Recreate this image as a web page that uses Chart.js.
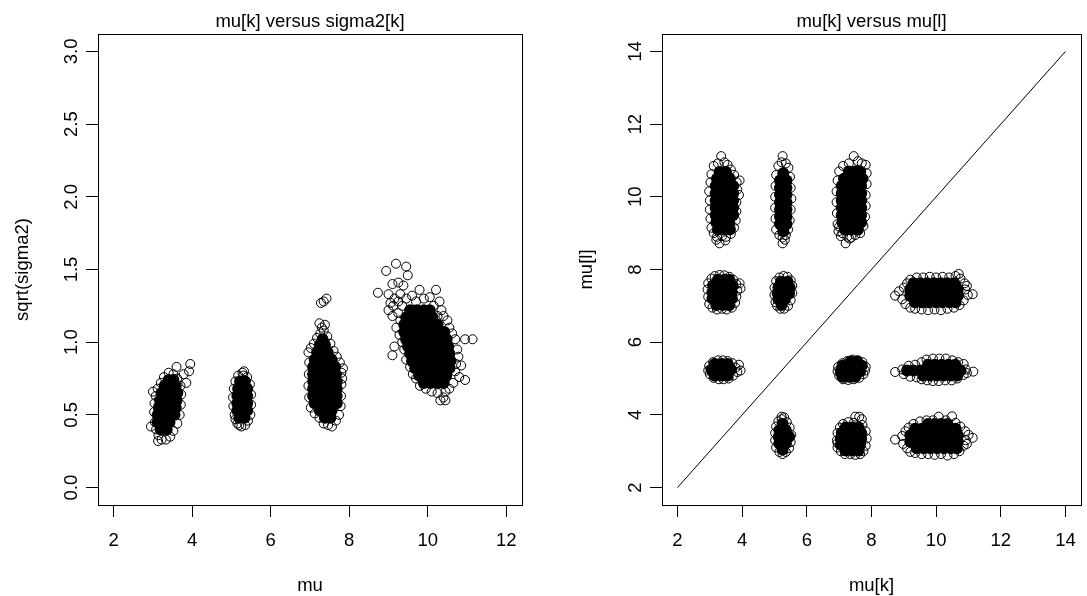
<!DOCTYPE html>
<html>
<head>
<meta charset="utf-8">
<script src="https://cdn.jsdelivr.net/npm/chart.js@4"></script>
<style>
html, body { margin: 0; padding: 0; background: #fff; }
#wrap { position: relative; width: 1087px; height: 596px; overflow: hidden; }
canvas { position: absolute; top: 0; }
#izq { left: 0; }
#der { left: 545px; }
</style>
</head>
<body>
<div id="wrap">
  <canvas id="izq" width="545" height="596"></canvas>
  <canvas id="der" width="542" height="596"></canvas>
</div>
<script>
// ticks
const mu_ticks = [2, 4, 6, 8, 10, 12]
const mu_labels = ["2", "4", "6", "8", "10", "12"]
const sigma_ticks = [0, 0.5, 1, 1.5, 2, 2.5, 3]
const sigma_labels = ["0.0", "0.5", "1.0", "1.5", "2.0", "2.5", "3.0"]
const mumu_ticks = [2, 4, 6, 8, 10, 12, 14]
const mumu_labels = ["2", "4", "6", "8", "10", "12", "14"]
const diagonal = [2, 14]

// izquierda: mu vs sqrt(sigma2). "nucleo" = zona densa, "borde" = circulos sueltos
const grupo1_nucleo = [[3.20,0.40],[3.35,0.40],[3.12,0.45],[3.27,0.45],[3.42,0.45],[3.12,0.50],[3.27,0.50],[3.42,0.50],[3.55,0.50],
  [3.15,0.55],[3.30,0.55],[3.45,0.55],[3.58,0.55],[3.18,0.60],[3.33,0.60],[3.48,0.60],[3.60,0.60],
  [3.22,0.65],[3.37,0.65],[3.52,0.65],[3.62,0.65],[3.30,0.70],[3.45,0.70],[3.58,0.70],[3.40,0.74],[3.52,0.74]]
const grupo1_borde = [[3.05,0.45],[3.03,0.52],[3.04,0.58],[3.07,0.63],[3.12,0.68],[3.20,0.72],[3.28,0.76],[3.40,0.79],[3.52,0.78],
  [3.62,0.75],[3.70,0.70],[3.72,0.64],[3.71,0.57],[3.68,0.50],[3.62,0.44],[3.52,0.39],[3.44,0.35],[3.33,0.33],[3.22,0.33],
  [3.14,0.36],[3.08,0.40],[3.60,0.83],[3.95,0.85],[3.92,0.80],[3.85,0.72],[3.78,0.78],[2.95,0.42],[3.00,0.66],[3.13,0.32]]
const grupo2_nucleo = [[5.20,0.48],[5.33,0.48],[5.15,0.53],[5.28,0.53],[5.40,0.53],[5.15,0.58],[5.28,0.58],[5.40,0.58],
  [5.15,0.63],[5.28,0.63],[5.40,0.63],[5.17,0.68],[5.30,0.68],[5.40,0.68],[5.22,0.73],[5.34,0.73]]
const grupo2_borde = [[5.08,0.50],[5.05,0.56],[5.04,0.62],[5.06,0.68],[5.10,0.73],[5.17,0.77],[5.28,0.79],[5.32,0.80],[5.40,0.76],
  [5.47,0.71],[5.50,0.64],[5.50,0.57],[5.48,0.50],[5.42,0.46],[5.35,0.43],[5.25,0.42],[5.15,0.44],[5.10,0.47],[5.30,0.77],[5.20,0.43]]
const grupo3_nucleo = [[7.38,0.48],[7.52,0.48],[7.25,0.53],[7.40,0.53],[7.55,0.53],[7.12,0.58],[7.27,0.58],[7.42,0.58],[7.56,0.58],[7.68,0.58],
  [7.08,0.63],[7.23,0.63],[7.38,0.63],[7.53,0.63],[7.68,0.63],[7.08,0.68],[7.23,0.68],[7.38,0.68],[7.53,0.68],[7.68,0.68],
  [7.08,0.73],[7.23,0.73],[7.38,0.73],[7.53,0.73],[7.68,0.73],[7.08,0.78],[7.23,0.78],[7.38,0.78],[7.53,0.78],[7.66,0.78],
  [7.08,0.83],[7.23,0.83],[7.38,0.83],[7.53,0.83],[7.64,0.83],[7.12,0.88],[7.27,0.88],[7.42,0.88],[7.55,0.88],
  [7.18,0.93],[7.32,0.93],[7.45,0.93],[7.25,0.98],[7.38,0.98],[7.32,1.02]]
const grupo3_borde = [[7.02,0.55],[6.98,0.62],[6.96,0.70],[6.97,0.78],[6.98,0.86],[6.96,0.93],[7.02,0.96],[7.10,0.99],[7.18,1.03],
  [7.26,1.06],[7.35,1.08],[7.44,1.04],[7.52,0.99],[7.60,0.94],[7.68,0.90],[7.76,0.86],[7.80,0.79],[7.80,0.71],[7.79,0.63],
  [7.78,0.56],[7.74,0.50],[7.66,0.46],[7.56,0.42],[7.46,0.43],[7.35,0.44],[7.24,0.48],[7.12,0.51],[7.30,1.10],[7.24,1.13],
  [7.38,1.12],[7.28,1.27],[7.35,1.28],[7.42,1.30],[7.84,0.82],[7.82,0.75]]
const grupo4_nucleo = [[9.55,1.22],[9.72,1.22],[9.90,1.22],[10.05,1.22],
  [9.45,1.17],[9.62,1.17],[9.80,1.17],[9.98,1.17],[10.12,1.17],
  [9.40,1.12],[9.57,1.12],[9.75,1.12],[9.92,1.12],[10.10,1.12],[10.25,1.12],
  [9.40,1.07],[9.57,1.07],[9.75,1.07],[9.92,1.07],[10.10,1.07],[10.28,1.07],[10.42,1.07],
  [9.45,1.02],[9.62,1.02],[9.80,1.02],[9.98,1.02],[10.15,1.02],[10.32,1.02],[10.48,1.02],
  [9.50,0.97],[9.67,0.97],[9.85,0.97],[10.02,0.97],[10.20,0.97],[10.37,0.97],[10.52,0.97],
  [9.55,0.92],[9.72,0.92],[9.90,0.92],[10.08,0.92],[10.25,0.92],[10.42,0.92],[10.55,0.92],
  [9.60,0.87],[9.78,0.87],[9.95,0.87],[10.12,0.87],[10.30,0.87],[10.48,0.87],[10.58,0.87],
  [9.68,0.82],[9.85,0.82],[10.02,0.82],[10.20,0.82],[10.38,0.82],[10.55,0.82],
  [9.78,0.77],[9.95,0.77],[10.12,0.77],[10.30,0.77],[10.47,0.77],
  [9.90,0.72],[10.07,0.72],[10.25,0.72],[10.40,0.72]]
const grupo4_borde = [[9.00,1.22],[9.05,1.27],[9.00,1.33],[8.73,1.34],[9.10,1.18],[9.12,1.25],[9.15,1.30],[9.25,1.20],[9.25,1.28],
  [9.30,1.15],[9.30,1.33],[9.35,1.25],[9.10,1.40],[9.25,1.41],[9.38,1.39],[9.19,1.54],[8.94,1.49],[9.45,1.52],[9.49,1.46],
  [9.45,1.30],[9.60,1.32],[9.70,1.28],[9.79,1.36],[9.90,1.30],[10.05,1.31],[10.21,1.36],[10.15,1.25],[10.30,1.28],[10.35,1.22],
  [10.25,1.18],[10.40,1.18],[10.50,1.15],[10.55,1.10],[10.62,1.06],[10.70,1.02],[10.75,0.95],[10.95,1.02],[11.14,1.02],
  [10.78,0.90],[10.72,0.85],[10.85,0.84],[10.70,0.80],[10.80,0.76],[10.95,0.74],[10.65,0.72],[10.55,0.68],[10.45,0.66],
  [10.40,0.62],[10.32,0.60],[10.45,0.60],[10.25,0.65],[10.10,0.66],[9.95,0.68],[9.80,0.70],[9.70,0.75],[9.62,0.78],
  [9.55,0.83],[9.45,0.88],[9.40,0.95],[9.35,1.00],[9.28,1.05],[9.15,0.97],[9.10,0.91],[9.20,1.10]]

// derecha: mu[k] vs mu[l]
const p3_10_nucleo = [[3.25,9.10],[3.45,9.10],[3.62,9.10],[3.20,9.30],[3.40,9.30],[3.60,9.30],
  [3.18,9.50],[3.38,9.50],[3.58,9.50],[3.72,9.50],[3.18,9.70],[3.38,9.70],[3.58,9.70],[3.72,9.70],
  [3.18,9.90],[3.38,9.90],[3.58,9.90],[3.72,9.90],[3.18,10.10],[3.38,10.10],[3.58,10.10],[3.72,10.10],
  [3.18,10.30],[3.38,10.30],[3.58,10.30],[3.72,10.30],[3.22,10.50],[3.42,10.50],[3.62,10.50],[3.30,10.68],[3.50,10.68]]
const p3_10_borde = [[3.05,9.15],[3.02,9.40],[3.00,9.65],[3.00,9.90],[2.98,10.15],[3.02,10.40],[3.05,10.62],[3.12,10.85],
  [3.25,10.92],[3.35,11.12],[3.45,10.95],[3.55,10.88],[3.65,10.75],[3.75,10.60],[3.83,10.40],[3.92,10.45],[3.90,10.05],
  [3.85,10.20],[3.82,9.85],[3.82,9.60],[3.80,9.35],[3.75,9.15],[3.65,8.98],[3.50,8.90],[3.38,8.92],[3.22,8.90],[3.12,9.00],
  [3.30,8.72],[3.20,8.82],[3.48,8.80]]
const p5_10_nucleo = [[5.27,9.05],[5.17,9.25],[5.37,9.25],[5.17,9.45],[5.37,9.45],[5.17,9.65],[5.37,9.65],[5.17,9.85],[5.37,9.85],
  [5.17,10.05],[5.37,10.05],[5.17,10.25],[5.37,10.25],[5.17,10.45],[5.37,10.45],[5.27,10.65]]
const p5_10_borde = [[5.05,9.10],[5.03,9.40],[5.02,9.70],[5.02,10.00],[5.03,10.30],[5.05,10.60],[5.12,10.85],[5.22,10.95],
  [5.25,11.12],[5.35,10.92],[5.43,10.80],[5.48,10.55],[5.50,10.25],[5.52,9.95],[5.50,9.65],[5.47,9.35],[5.42,9.10],
  [5.35,8.95],[5.25,8.88],[5.15,8.95],[5.25,8.72],[5.32,8.82]]
const p7_10_nucleo = [[7.18,9.10],[7.38,9.10],[7.58,9.10],[7.10,9.30],[7.30,9.30],[7.50,9.30],[7.68,9.30],
  [7.08,9.50],[7.28,9.50],[7.48,9.50],[7.68,9.50],[7.08,9.70],[7.28,9.70],[7.48,9.70],[7.68,9.70],
  [7.08,9.90],[7.28,9.90],[7.48,9.90],[7.68,9.90],[7.08,10.10],[7.28,10.10],[7.48,10.10],[7.68,10.10],
  [7.08,10.30],[7.28,10.30],[7.48,10.30],[7.68,10.30],[7.15,10.50],[7.35,10.50],[7.55,10.50],[7.72,10.50],
  [7.30,10.70],[7.50,10.70],[7.65,10.70]]
const p7_10_borde = [[6.95,9.25],[6.93,9.55],[6.92,9.85],[6.92,10.15],[6.95,10.45],[7.00,10.70],[7.12,10.85],[7.30,10.92],
  [7.45,11.12],[7.58,10.98],[7.70,10.92],[7.82,10.88],[7.85,10.65],[7.85,10.35],[7.82,10.05],[7.82,9.75],[7.80,9.45],
  [7.75,9.20],[7.65,9.00],[7.50,8.95],[7.38,8.88],[7.25,8.90],[7.10,9.00],[7.00,9.18],[6.98,9.05],[7.05,8.92],[7.20,8.72],[7.32,8.85]]
const p3_7_nucleo = [[3.20,7.02],[3.40,7.02],[3.60,7.02],[3.08,7.20],[3.28,7.20],[3.48,7.20],[3.68,7.20],
  [3.08,7.38],[3.28,7.38],[3.48,7.38],[3.68,7.38],[3.10,7.56],[3.30,7.56],[3.50,7.56],[3.70,7.56],[3.25,7.72],[3.45,7.72],[3.60,7.72]]
const p3_7_borde = [[2.98,7.05],[2.95,7.25],[2.93,7.45],[2.95,7.62],[3.05,7.75],[3.15,7.82],[3.30,7.85],[3.45,7.84],[3.60,7.80],
  [3.72,7.72],[3.82,7.60],[3.92,7.62],[3.95,7.48],[3.85,7.42],[3.82,7.25],[3.78,7.08],[3.68,6.95],[3.52,6.90],[3.38,6.92],
  [3.22,6.90],[3.08,6.95]]
const p5_7_nucleo = [[5.22,7.02],[5.12,7.18],[5.32,7.18],[5.10,7.34],[5.30,7.34],[5.45,7.34],[5.12,7.50],[5.32,7.50],[5.47,7.50],
  [5.20,7.66],[5.40,7.66]]
const p5_7_borde = [[5.03,7.10],[5.00,7.30],[5.00,7.50],[5.05,7.68],[5.15,7.78],[5.28,7.82],[5.40,7.80],[5.50,7.70],[5.55,7.55],
  [5.55,7.35],[5.50,7.15],[5.42,7.00],[5.30,6.92],[5.18,6.92],[5.08,7.00]]
const p10_7_nucleo = [[9.35,7.10],[9.56,7.10],[9.77,7.10],[9.98,7.10],[10.19,7.10],[10.40,7.10],[10.60,7.10],
  [9.20,7.28],[9.41,7.28],[9.62,7.28],[9.83,7.28],[10.04,7.28],[10.25,7.28],[10.46,7.28],[10.67,7.28],
  [9.20,7.46],[9.41,7.46],[9.62,7.46],[9.83,7.46],[10.04,7.46],[10.25,7.46],[10.46,7.46],[10.67,7.46],
  [9.30,7.62],[9.51,7.62],[9.72,7.62],[9.93,7.62],[10.14,7.62],[10.35,7.62],[10.56,7.62]]
const p10_7_borde = [[8.73,7.28],[8.85,7.40],[8.95,7.18],[9.00,7.50],[9.05,7.05],[9.10,7.62],[9.20,6.95],[9.20,7.72],[9.35,6.92],
  [9.40,7.78],[9.55,6.90],[9.60,7.78],[9.75,6.88],[9.80,7.80],[9.95,6.90],[10.00,7.78],[10.15,6.88],[10.20,7.80],[10.35,6.92],
  [10.40,7.78],[10.55,6.95],[10.60,7.82],[10.72,7.02],[10.75,7.75],[10.85,7.15],[10.88,7.62],[10.90,7.45],[10.95,7.55],
  [11.13,7.32],[10.98,7.30],[10.70,7.88]]
const p3_5_nucleo = [[3.15,5.08],[3.35,5.08],[3.55,5.08],[3.05,5.24],[3.25,5.24],[3.45,5.24],[3.65,5.24],[3.15,5.40],[3.35,5.40],[3.55,5.40]]
const p3_5_borde = [[2.95,5.22],[2.98,5.35],[3.00,5.12],[3.10,5.45],[3.12,5.02],[3.25,5.50],[3.28,4.98],[3.40,5.50],[3.42,4.98],
  [3.55,5.48],[3.58,5.00],[3.70,5.42],[3.72,5.08],[3.80,5.30],[3.90,5.38],[3.95,5.22],[3.85,5.18]]
const p7_5_nucleo = [[7.10,5.05],[7.30,5.05],[7.50,5.05],[7.05,5.20],[7.25,5.20],[7.45,5.20],[7.65,5.20],
  [7.10,5.35],[7.30,5.35],[7.50,5.35],[7.70,5.35],[7.35,5.47],[7.55,5.47]]
const p7_5_borde = [[6.95,5.20],[6.97,5.32],[7.00,5.08],[7.10,5.42],[7.12,4.98],[7.25,5.48],[7.28,4.96],[7.42,5.52],[7.45,4.98],
  [7.58,5.50],[7.62,5.02],[7.72,5.45],[7.75,5.12],[7.82,5.32],[7.80,5.22]]
const p10_5_nucleo = [[9.60,5.08],[9.81,5.08],[10.02,5.08],[10.23,5.08],[10.44,5.08],[10.65,5.08],
  [9.10,5.22],[9.30,5.22],[9.50,5.22],[9.70,5.22],[9.91,5.22],[10.12,5.22],[10.33,5.22],[10.54,5.22],[10.75,5.22],
  [9.75,5.38],[9.96,5.38],[10.17,5.38],[10.38,5.38],[10.59,5.38]]
const p10_5_borde = [[8.73,5.18],[8.95,5.25],[9.00,5.12],[9.15,5.35],[9.20,5.05],[9.35,5.38],[9.40,5.03],[9.55,5.45],[9.55,4.98],
  [9.70,5.52],[9.72,4.95],[9.90,5.55],[9.90,4.93],[10.10,5.55],[10.08,4.93],[10.30,5.55],[10.28,4.95],[10.50,5.50],
  [10.48,4.95],[10.68,5.45],[10.65,5.00],[10.85,5.40],[10.85,5.10],[10.92,5.25],[11.15,5.19],[10.95,5.15]]
const p5_3_nucleo = [[5.25,3.05],[5.15,3.22],[5.35,3.22],[5.13,3.40],[5.33,3.40],[5.45,3.40],[5.15,3.58],[5.35,3.58],[5.25,3.75]]
const p5_3_borde = [[5.05,3.10],[5.02,3.30],[5.02,3.50],[5.05,3.68],[5.12,3.82],[5.22,3.88],[5.22,3.95],[5.30,3.93],[5.38,3.80],
  [5.47,3.65],[5.52,3.45],[5.50,3.25],[5.45,3.08],[5.35,2.98],[5.25,2.92],[5.15,2.98]]
const p7_3_nucleo = [[7.20,3.02],[7.40,3.02],[7.60,3.02],[7.05,3.18],[7.25,3.18],[7.45,3.18],[7.65,3.18],
  [7.05,3.34],[7.25,3.34],[7.45,3.34],[7.68,3.34],[7.08,3.50],[7.28,3.50],[7.48,3.50],[7.68,3.50],[7.20,3.65],[7.40,3.65],[7.60,3.65]]
const p7_3_borde = [[6.95,3.10],[6.93,3.30],[6.95,3.50],[7.02,3.65],[7.12,3.75],[7.28,3.80],[7.45,3.78],[7.50,3.95],[7.62,3.95],
  [7.70,3.88],[7.72,3.72],[7.82,3.55],[7.85,3.35],[7.82,3.15],[7.75,3.00],[7.65,2.92],[7.50,2.90],[7.35,2.92],[7.18,2.92],
  [7.05,3.00],[6.95,3.22]]
const p10_3_nucleo = [[9.40,3.08],[9.61,3.08],[9.82,3.08],[10.03,3.08],[10.24,3.08],[10.45,3.08],[10.64,3.08],
  [9.20,3.26],[9.41,3.26],[9.62,3.26],[9.83,3.26],[10.04,3.26],[10.25,3.26],[10.46,3.26],[10.67,3.26],
  [9.20,3.44],[9.41,3.44],[9.62,3.44],[9.83,3.44],[10.04,3.44],[10.25,3.44],[10.46,3.44],[10.67,3.44],
  [9.35,3.62],[9.56,3.62],[9.77,3.62],[9.98,3.62],[10.19,3.62],[10.40,3.62],[10.60,3.62],
  [9.75,3.75],[9.95,3.75],[10.15,3.75],[10.35,3.75]]
const p10_3_borde = [[8.73,3.32],[8.95,3.42],[8.98,3.20],[9.05,3.55],[9.10,3.08],[9.15,3.65],[9.20,2.98],[9.30,3.75],[9.35,2.95],
  [9.50,3.82],[9.55,2.92],[9.70,3.85],[9.75,2.92],[9.90,3.85],[9.95,2.90],[10.08,3.95],[10.15,2.92],[10.30,3.85],[10.35,2.88],
  [10.49,3.96],[10.55,2.92],[10.60,3.78],[10.72,3.00],[10.75,3.68],[10.85,3.15],[10.90,3.55],[10.92,3.30],[11.13,3.37],
  [11.00,3.45],[10.95,3.20]]

const FUENTE = '18.5px "Liberation Sans", Arial, sans-serif'

function a_puntos(...listas) {
  return [].concat(...listas).map(p => ({ x: p[0], y: p[1] }))
}

// caja, titulos y etiquetas al estilo de R
function marco(t) {
  return {
    id: "marco",
    afterDraw(chart) {
      const ctx = chart.ctx
      const a = chart.chartArea
      const sx = chart.scales.x, sy = chart.scales.y
      ctx.save()
      ctx.strokeStyle = "#000"
      ctx.lineWidth = 1
      ctx.strokeRect(a.left + 0.5, a.top + 0.5, a.right - a.left, a.bottom - a.top)
      ctx.fillStyle = "#000"
      ctx.font = FUENTE
      ctx.textAlign = "center"
      ctx.textBaseline = "alphabetic"
      const cx = (a.left + a.right) / 2
      const cy = (a.top + a.bottom) / 2
      ctx.fillText(t.titulo, cx, a.top - 7.5)
      sx.ticks.forEach((tk, i) => ctx.fillText(t.xlab[i], sx.getPixelForValue(tk.value), a.bottom + 41.3))
      ctx.fillText(t.xtit, cx, a.bottom + 86)
      sy.ticks.forEach((tk, i) => {
        ctx.save()
        ctx.translate(a.left - 21, sy.getPixelForValue(tk.value))
        ctx.rotate(-Math.PI / 2)
        ctx.fillText(t.ylab[i], 0, 0)
        ctx.restore()
      })
      ctx.save()
      ctx.translate(a.left - 69.8, cy)
      ctx.rotate(-Math.PI / 2)
      ctx.fillText(t.ytit, 0, 0)
      ctx.restore()
      ctx.restore()
    }
  }
}

function eje(min, max, valores, ajuste) {
  return {
    type: "linear",
    min: min,
    max: max,
    afterBuildTicks: s => { s.ticks = valores.map(v => ({ value: v })) },
    afterFit: ajuste,
    ticks: { display: false },
    border: { display: false },
    grid: { drawOnChartArea: false, drawTicks: true, tickLength: 12, color: "#000", lineWidth: 1 }
  }
}

function crear_panel(id, datasets, escalas, padding, textos) {
  new Chart(document.getElementById(id), {
    type: "scatter",
    data: { datasets: datasets },
    options: {
      responsive: false,
      animation: false,
      devicePixelRatio: 1,
      events: [],
      layout: { padding: padding },
      plugins: { legend: { display: false }, tooltip: { enabled: false }, title: { display: false } },
      scales: escalas
    },
    plugins: [marco(textos)]
  })
}

function nube(nucleo, borde) {
  return [
    { data: borde, pointRadius: 4.5, pointBorderWidth: 1, pointBorderColor: "#000", pointBackgroundColor: "rgba(0,0,0,0)" },
    { data: nucleo, pointRadius: 6, pointBorderWidth: 0, pointBorderColor: "#000", pointBackgroundColor: "#000" }
  ]
}

crear_panel("izq",
  nube(a_puntos(grupo1_nucleo, grupo2_nucleo, grupo3_nucleo, grupo4_nucleo),
       a_puntos(grupo1_borde, grupo2_borde, grupo3_borde, grupo4_borde)),
  {
    x: eje(1.6, 12.4, mu_ticks, s => { s.height = 91 }),
    y: eje(-0.12, 3.12, sigma_ticks, s => { s.width = 98 })
  },
  { left: 0, top: 34, right: 23, bottom: 0 },
  { titulo: "mu[k] versus sigma2[k]", xlab: mu_labels, ylab: sigma_labels, xtit: "mu", ytit: "sqrt(sigma2)" }
)

const linea = {
  data: diagonal.map(v => ({ x: v, y: v })),
  showLine: true, pointRadius: 0, borderColor: "#000", borderWidth: 1
}

crear_panel("der",
  [linea].concat(nube(
    a_puntos(p3_10_nucleo, p5_10_nucleo, p7_10_nucleo, p3_7_nucleo, p5_7_nucleo, p10_7_nucleo,
             p3_5_nucleo, p7_5_nucleo, p10_5_nucleo, p5_3_nucleo, p7_3_nucleo, p10_3_nucleo),
    a_puntos(p3_10_borde, p5_10_borde, p7_10_borde, p3_7_borde, p5_7_borde, p10_7_borde,
             p3_5_borde, p7_5_borde, p10_5_borde, p5_3_borde, p7_3_borde, p10_3_borde))),
  {
    x: eje(1.52, 14.48, mumu_ticks, s => { s.height = 91 }),
    y: eje(1.52, 14.48, mumu_ticks, s => { s.width = 117 })
  },
  { left: 0, top: 34, right: 1, bottom: 0 },
  { titulo: "mu[k] versus mu[l]", xlab: mumu_labels, ylab: mumu_labels, xtit: "mu[k]", ytit: "mu[l]" }
)
</script>
</body>
</html>
